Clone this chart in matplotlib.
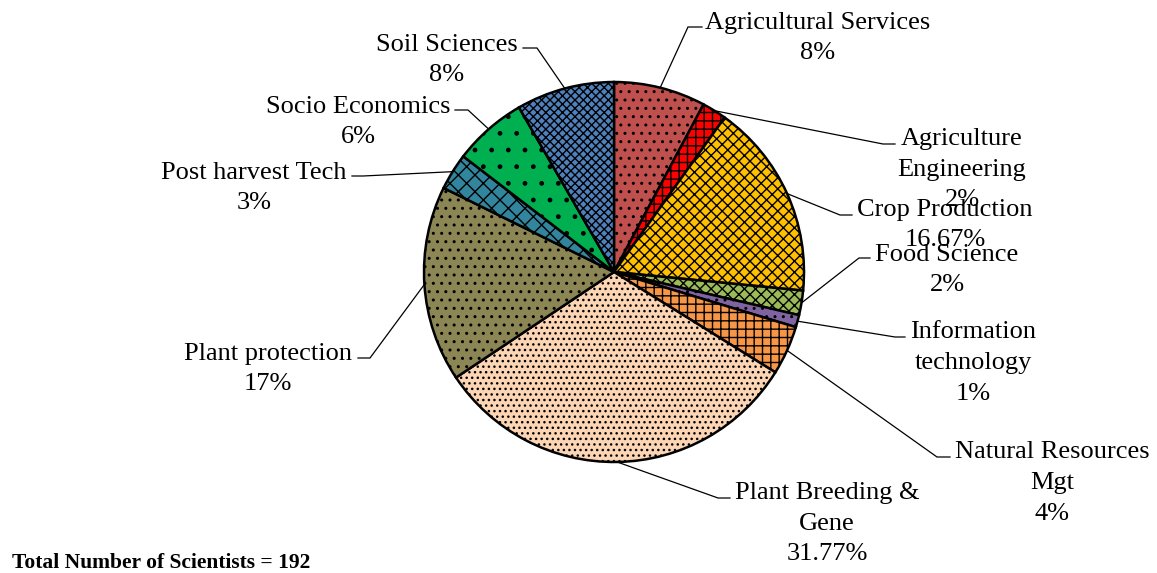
import numpy as np
import matplotlib
matplotlib.use("Agg")
import matplotlib.pyplot as plt

# scientists per discipline (total 192), clockwise from 12 o'clock
disciplines = ["Agricultural Services", "Agriculture\nEngineering", "Crop Production",
               "Food Science", "Information\ntechnology", "Natural Resources\nMgt",
               "Plant Breeding &\nGene", "Plant protection", "Post harvest Tech",
               "Socio Economics", "Soil Sciences"]
counts = [15, 4, 32, 4, 2, 8, 61, 32, 6, 12, 16]
pct_labels = ["8%", "2%", "16.67%", "2%", "1%", "4%", "31.77%", "17%", "3%", "6%", "8%"]

colors = ["#C0504D", "#FF0000", "#FFC000", "#9BBB59", "#8064A2", "#F79646",
          "#FCD5B5", "#8B8654", "#31859C", "#00B050", "#4F81BD"]
hatches = ["..", "++", "xxx", "xxx", "..", "++", "...", "..", "xx", ".", "xxxx"]

# layout in pixels (origin top-left): label block centre, elbow, stub end
label_xy = [(818, 38), (962, 170), (945, 225), (947, 270), (973, 363), (1052, 483),
            (827, 524), (268, 369), (254, 188), (358, 122), (447, 60)]
elbow_xy = [(688, 27), (883, 144), (840, 215), (859, 258), (895, 337), (937, 457),
            (718, 498), (370, 358), (363, 176), (468, 110), (537, 48)]
stub_x = [702, 895, 852, 870, 905, 950, 730, 358, 352, 455, 523]

W, H = 1157, 573
cx, cy, R = 614, 272, 190

plt.rcParams["font.family"] = ["Liberation Serif", "DejaVu Serif"]
plt.rcParams["hatch.linewidth"] = 1.0

fig = plt.figure(figsize=(W / 100, H / 100), dpi=100)
ax = fig.add_axes([0, 0, 1, 1])

wedges, _ = ax.pie(counts, colors=colors, startangle=90, counterclock=False,
                   center=(cx, H - cy), radius=R,
                   wedgeprops=dict(edgecolor="black", linewidth=1.8))
for w, h in zip(wedges, hatches):
    w.set_hatch(h)

# pie() sets its own limits, so fix the pixel frame afterwards
ax.set_xlim(0, W)
ax.set_ylim(0, H)
ax.set_aspect("equal")
ax.axis("off")

for i, w in enumerate(wedges):
    ang = np.deg2rad((w.theta1 + w.theta2) / 2)
    px = cx + R * np.cos(ang)
    py = (H - cy) + R * np.sin(ang)
    ex, ey = elbow_xy[i]
    ax.plot([px, ex, stub_x[i]], [py, H - ey, H - ey], color="black", lw=0.9,
            solid_joinstyle="miter", zorder=0)
    lx, ly = label_xy[i]
    ax.text(lx, H - ly, disciplines[i] + "\n" + pct_labels[i], ha="center", va="center",
            fontsize=19, linespacing=1.5)

ax.text(12, H - 563, "Total Number of Scientists = 192", fontsize=15.5,
        fontweight="bold", ha="left", va="center")

fig.savefig("out.png", dpi=100)
